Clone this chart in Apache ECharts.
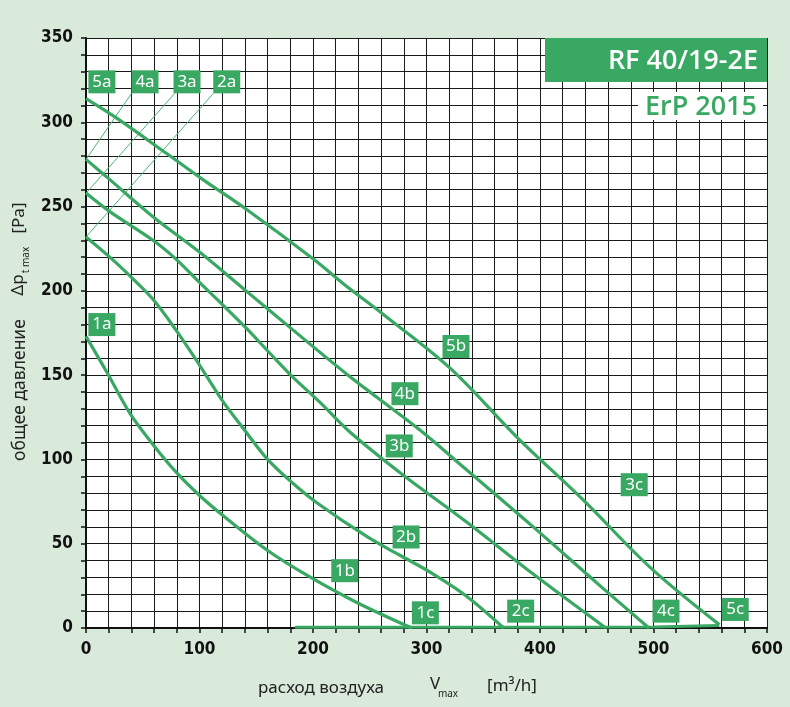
<!DOCTYPE html>
<html><head><meta charset="utf-8">
<script src="https://cdn.jsdelivr.net/npm/echarts@6/dist/echarts.min.js"></script>
<style>html,body{margin:0;padding:0;background:#d9eadb;}#c{width:790px;height:707px;}</style>
</head><body><div id="c"></div>
<script>
// ---- data (m3/h, Pa) ----
const curve1 = [[0,173],[19,151],[39,127],[60,108],[80,92],[101,78],[122,66],[160,46],[198,30],[239,15],[287,0]];
const curve2 = [[0,232],[21,220],[40,208],[59,195],[79,177],[100,156],[120,135],[139,118],[160,100],[182,86],[204,74],[248,54],[277,43],[306,32],[335,19],[368,0]];
const curve3 = [[0,258],[21,247],[59,230],[79,219],[100,205],[120,192],[141,178],[162,163],[182,149],[206,134],[233,116],[277,92],[335,63],[394,32],[458,0]];
const curve4 = [[0,278],[21,266],[59,244],[100,223],[141,200],[182,177],[229,151],[256,137],[295,117],[335,94],[394,60],[453,25],[496,0]];
const curve5 = [[0,314],[28,302],[72,281],[103,266],[140,249],[200,219],[229,203],[262,186],[321,154],[380,113],[438,76],[497,36],[558,2]];
const baseLine = [[184,0.4],[500,0.6],[558,1.5]];
const leader4a = [[0,278],[40,317]];
const leader3a = [[0,258],[78,317]];
const leader2a = [[0,232],[112,317]];
const tagNames = ['5a','4a','3a','2a','1a','5b','4b','3b','2b','1b','3c','1c','2c','4c','5c'];
const tagX = [14,52,89,124,14,326,281,276,282,228,483,299,383,511,572];
const tagY = [324,324,324,324,180,167,139,108,54,34,85,9,10,10,11];
const xTicks = [0,100,200,300,400,500,600];
const yTicks = [0,50,100,150,200,250,300,350];

const G = '#38a862';
const chart = echarts.init(document.getElementById('c'), null, {renderer:'canvas'});
const numFont = '"Liberation Sans Narrow","DejaVu Sans Condensed","Liberation Sans",sans-serif';
const txtFont = '"Noto Sans","Open Sans",sans-serif';

function curve(d){ return {type:'line', data:d, smooth:0.35, symbol:'none', lineStyle:{color:G,width:3.2}, z:3}; }
function leader(d){ return {type:'line', data:d, symbol:'none', lineStyle:{color:'#4cb571',width:1}, z:2}; }

const tags = tagNames.map((n,i)=>[tagX[i],tagY[i],n]);

chart.setOption({
  animation:false,
  backgroundColor:'#d9eadb',
  grid:{left:86,right:23,top:38,bottom:79,show:true,backgroundColor:'#ffffff',borderWidth:0},
  xAxis:{type:'value',min:0,max:600,interval:20,
    axisLine:{show:true,onZero:false,lineStyle:{color:'#111',width:2}},
    axisTick:{show:true,length:5,lineStyle:{color:'#111',width:1.5}},
    splitLine:{show:true,lineStyle:{color:'#1a1a1a',width:1}},
    axisLabel:{margin:13,fontFamily:numFont,fontWeight:'bold',fontSize:17,color:'#111',
      formatter:v=> xTicks.includes(v)? String(v):''}},
  yAxis:{type:'value',min:0,max:350,interval:10,
    axisLine:{show:true,lineStyle:{color:'#111',width:2}},
    axisTick:{show:true,length:5,lineStyle:{color:'#111',width:1.5}},
    splitLine:{show:true,lineStyle:{color:'#1a1a1a',width:1}},
    axisLabel:{margin:13,fontFamily:numFont,fontWeight:'bold',fontSize:17,color:'#111',
      formatter:v=> yTicks.includes(v)? String(v):''}},
  series:[
    leader(leader4a),leader(leader3a),leader(leader2a),
    {type:'line',data:baseLine,symbol:'none',lineStyle:{color:G,width:3},z:3},
    curve(curve1),curve(curve2),curve(curve3),curve(curve4),curve(curve5),
    {type:'scatter',data:tags,symbol:'rect',symbolSize:[27,23],itemStyle:{color:G,opacity:1},z:5,
      label:{show:true,position:'inside',color:'#fff',fontFamily:txtFont,fontSize:17,
        formatter:p=>p.value[2]}}
  ],
  graphic:[
    {type:'rect',shape:{x:545,y:38,width:222,height:44},style:{fill:G},z:10},
    {type:'text',x:758,y:61,style:{text:'RF 40/19-2E',align:'right',verticalAlign:'middle',fill:'#fff',font:'600 27px "Open Sans",sans-serif'},z:11},
    {type:'rect',shape:{x:638,y:92,width:125,height:28},style:{fill:'#fff'},z:10},
    {type:'text',x:757,y:107,style:{text:'ErP 2015',align:'right',verticalAlign:'middle',fill:G,font:'600 27px "Open Sans",sans-serif'},z:11},
    {type:'text',x:20,y:390,rotation:Math.PI/2,style:{text:'общее давление',align:'center',verticalAlign:'middle',fill:'#222',font:'17.5px '+txtFont},z:11},
    {type:'text',x:18,y:285,rotation:Math.PI/2,style:{text:'Δp',align:'center',verticalAlign:'middle',fill:'#222',font:'17px '+txtFont},z:11},
    {type:'text',x:26,y:260,rotation:Math.PI/2,style:{text:'t max',align:'center',verticalAlign:'middle',fill:'#222',font:'10px '+txtFont},z:11},
    {type:'text',x:19,y:218,rotation:Math.PI/2,style:{text:'[Pa]',align:'center',verticalAlign:'middle',fill:'#222',font:'17px '+txtFont},z:11},
    {type:'text',x:321,y:688,style:{text:'расход воздуха',align:'center',verticalAlign:'middle',fill:'#222',font:'17px '+txtFont},z:11},
    {type:'text',x:435,y:684,style:{text:'V',align:'center',verticalAlign:'middle',fill:'#222',font:'17px '+txtFont},z:11},
    {type:'text',x:448,y:694,style:{text:'max',align:'center',verticalAlign:'middle',fill:'#222',font:'10px '+txtFont},z:11},
    {type:'text',x:512,y:686,style:{text:'[m³/h]',align:'center',verticalAlign:'middle',fill:'#222',font:'17px '+txtFont},z:11}
  ]
});
</script></body></html>
